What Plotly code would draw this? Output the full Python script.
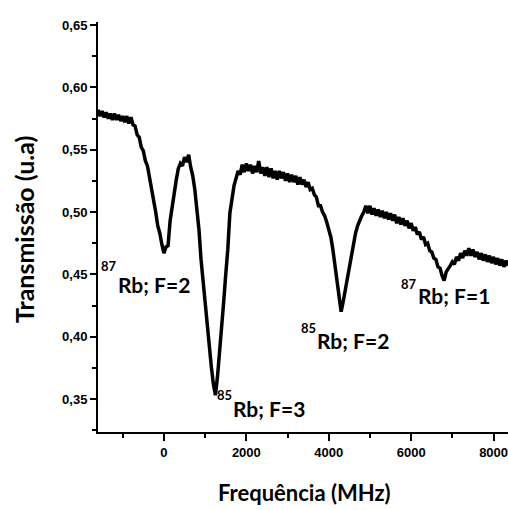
import plotly.graph_objects as go

# Frequency (MHz) and transmission (a.u.)
freq = [-1600, -1550, -1500, -1450, -1400, -1350, -1300, -1250, -1200, -1150,
        -1100, -1050, -1000, -950, -900, -850, -800, -750, -700, -650,
        -600, -550, -500, -450, -400, -350, -300, -250, -200, -150,
        -100, -50, 0, 50, 100, 150, 200, 250, 300, 350,
        400, 450, 500, 550, 600, 650, 700, 750, 800, 850,
        900, 950, 1000, 1050, 1100, 1150, 1200, 1250, 1300, 1350,
        1400, 1450, 1500, 1550, 1600, 1650, 1700, 1750, 1800, 1850,
        1900, 1950, 2000, 2050, 2100, 2150, 2200, 2250, 2300, 2350,
        2400, 2450, 2500, 2550, 2600, 2650, 2700, 2750, 2800, 2850,
        2900, 2950, 3000, 3050, 3100, 3150, 3200, 3250, 3300, 3350,
        3400, 3450, 3500, 3550, 3600, 3650, 3700, 3750, 3800, 3850,
        3900, 3950, 4000, 4050, 4100, 4150, 4200, 4250, 4300, 4350,
        4400, 4450, 4500, 4550, 4600, 4650, 4700, 4750, 4800, 4850,
        4900, 4950, 5000, 5050, 5100, 5150, 5200, 5250, 5300, 5350,
        5400, 5450, 5500, 5550, 5600, 5650, 5700, 5750, 5800, 5850,
        5900, 5950, 6000, 6050, 6100, 6150, 6200, 6250, 6300, 6350,
        6400, 6450, 6500, 6550, 6600, 6650, 6700, 6750, 6800, 6850,
        6900, 6950, 7000, 7050, 7100, 7150, 7200, 7250, 7300, 7350,
        7400, 7450, 7500, 7550, 7600, 7650, 7700, 7750, 7800, 7850,
        7900, 7950, 8000, 8050, 8100, 8150, 8200, 8250, 8300, 8350]
trans = [0.582, 0.577, 0.581, 0.576, 0.580, 0.575, 0.579, 0.574, 0.579, 0.574,
         0.578, 0.573, 0.577, 0.572, 0.577, 0.571, 0.576, 0.570, 0.569, 0.562,
         0.560, 0.552, 0.549, 0.541, 0.537, 0.528, 0.521, 0.509, 0.500, 0.489,
         0.483, 0.474, 0.467, 0.472, 0.473, 0.493, 0.504, 0.519, 0.526, 0.535,
         0.539, 0.537, 0.544, 0.540, 0.546, 0.536, 0.529, 0.518, 0.503, 0.486,
         0.462, 0.444, 0.426, 0.409, 0.392, 0.376, 0.362, 0.353, 0.368, 0.386,
         0.405, 0.428, 0.450, 0.470, 0.499, 0.511, 0.521, 0.527, 0.533, 0.530,
         0.538, 0.532, 0.539, 0.533, 0.538, 0.531, 0.537, 0.532, 0.541, 0.531,
         0.536, 0.529, 0.536, 0.528, 0.535, 0.527, 0.533, 0.526, 0.533, 0.527,
         0.532, 0.525, 0.531, 0.524, 0.530, 0.524, 0.529, 0.522, 0.528, 0.522,
         0.526, 0.520, 0.524, 0.518, 0.519, 0.514, 0.512, 0.505, 0.505, 0.500,
         0.497, 0.492, 0.487, 0.480, 0.470, 0.458, 0.446, 0.431, 0.420, 0.428,
         0.437, 0.447, 0.457, 0.467, 0.476, 0.483, 0.489, 0.494, 0.497, 0.500,
         0.505, 0.499, 0.505, 0.498, 0.503, 0.497, 0.502, 0.496, 0.501, 0.495,
         0.500, 0.494, 0.499, 0.493, 0.498, 0.491, 0.496, 0.490, 0.495, 0.489,
         0.493, 0.487, 0.491, 0.485, 0.488, 0.482, 0.484, 0.478, 0.480, 0.474,
         0.475, 0.469, 0.468, 0.463, 0.462, 0.456, 0.455, 0.449, 0.445, 0.452,
         0.454, 0.457, 0.460, 0.458, 0.464, 0.461, 0.467, 0.463, 0.469, 0.465,
         0.471, 0.465, 0.470, 0.464, 0.468, 0.462, 0.467, 0.461, 0.466, 0.460,
         0.465, 0.459, 0.464, 0.458, 0.463, 0.457, 0.462, 0.456, 0.461, 0.457]

# Peak labels: (isotope superscript, main text)
label_iso = ["87", "85", "85", "87"]
label_txt = ["Rb; F=2", "Rb; F=3", "Rb; F=2", "Rb; F=1"]

x_title = "Frequência (MHz)"
y_title = "Transmissão (u.a)"

W, H = 508, 510
L, R, T, B = 98, 0, 22, 78
PW, PH = W - L - R, H - T - B


def px(xpix):
    return (xpix - L) / PW


def py(ypix):
    return (H - B - ypix) / PH


fig = go.Figure()
fig.add_trace(go.Scatter(x=freq, y=trans, mode="lines",
                         line=dict(color="black", width=3.5), showlegend=False))

# label layout positions (pixels): superscript center y, text (left, center y)
sup_y = [266, 395, 328, 284]
txt_pos = [(118, 284), (233, 408), (317, 340), (418, 296)]

annots = []
for iso, txt, sy, tp in zip(label_iso, label_txt, sup_y, txt_pos):
    annots.append(dict(text=iso, x=px(tp[0] + 1), y=py(sy), xref="paper", yref="paper",
                       xanchor="right", yanchor="middle", showarrow=False,
                       font=dict(family="Lato", size=13, color="black", weight="bold")))
    annots.append(dict(text=txt, x=px(tp[0] - 2), y=py(tp[1]), xref="paper", yref="paper",
                       xanchor="left", yanchor="middle", showarrow=False,
                       font=dict(family="Lato", size=21, color="black", weight="bold")))

annots.append(dict(text=x_title, x=px(304), y=py(493), xref="paper", yref="paper",
                   xanchor="center", yanchor="middle", showarrow=False,
                   font=dict(family="Lato", size=22, color="black", weight="bold")))
annots.append(dict(text=y_title, x=px(24), y=py(230), xref="paper", yref="paper",
                   xanchor="center", yanchor="middle", showarrow=False, textangle=-90,
                   font=dict(family="Lato", size=25, color="black", weight="bold")))

tickfont = dict(family="Liberation Sans", size=13, color="black", weight="bold")

fig.update_layout(
    width=W, height=H,
    margin=dict(l=L, r=R, t=T, b=B),
    paper_bgcolor="white", plot_bgcolor="white",
    separators=",.",
    annotations=annots,
    xaxis=dict(range=[-1600, 8350], showgrid=False, zeroline=False,
               showline=True, linecolor="black", linewidth=2,
               ticks="outside", ticklen=7, tickwidth=2, tickcolor="black",
               tick0=0, dtick=2000, tickformat="d", tickfont=tickfont,
               ticklabeloverflow="allow",
               minor=dict(ticks="outside", ticklen=4, tickwidth=1.5,
                          tickcolor="black", dtick=1000, tick0=0)),
    yaxis=dict(range=[0.3235, 0.6525], showgrid=False, zeroline=False,
               showline=True, linecolor="black", linewidth=2,
               ticks="outside", ticklen=6, tickwidth=2, tickcolor="black",
               tick0=0.35, dtick=0.05, tickformat=".2f", tickfont=tickfont,
               minor=dict(ticks="outside", ticklen=4, tickwidth=1.5,
                          tickcolor="black", dtick=0.025, tick0=0.325)),
)

fig.write_html("out.html")
